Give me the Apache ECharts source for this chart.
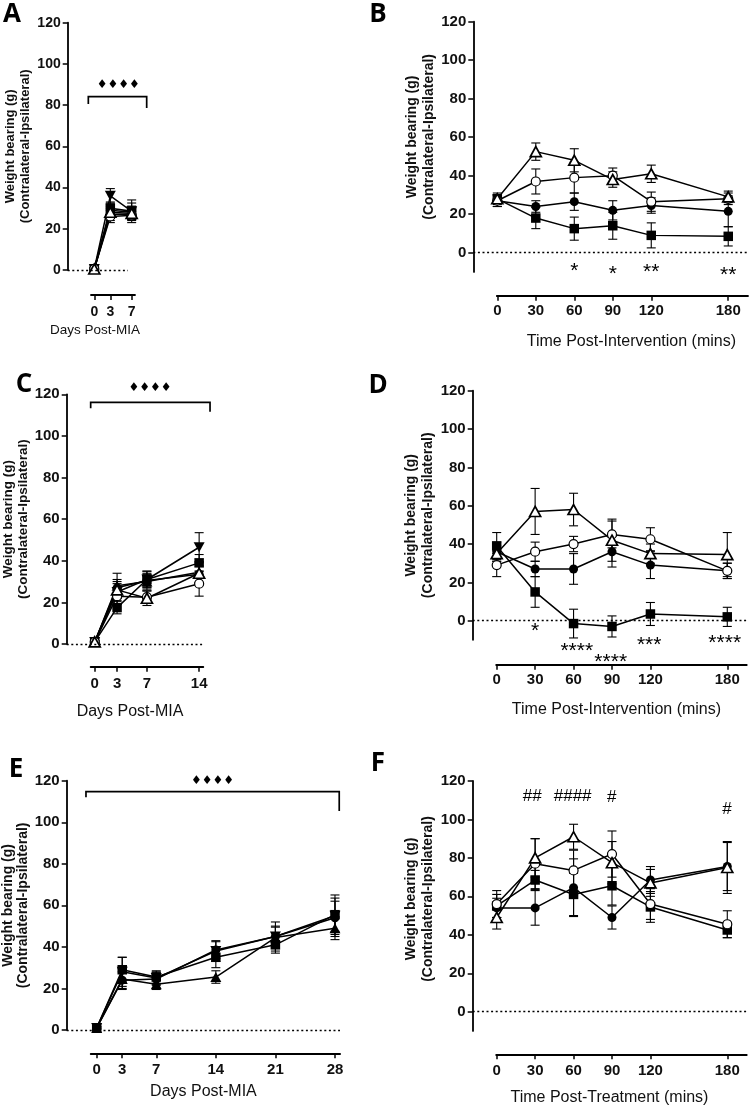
<!DOCTYPE html>
<html><head><meta charset="utf-8">
<script src="https://cdn.jsdelivr.net/npm/echarts@6/dist/echarts.min.js"></script>
<style>html,body{margin:0;padding:0;background:#fff}#c{width:750px;height:1108px}</style>
</head><body><div id="c"></div>
<script>
// ---------- tick labels ----------
const yTicks = [0, 20, 40, 60, 80, 100, 120];
const daysA = [0, 3, 7];
const daysC = [0, 3, 7, 14];
const daysE = [0, 3, 7, 14, 21, 28];
const mins = [0, 30, 60, 90, 120, 180];

// ---------- Panel A ----------
const A_iTri = [0.5, 36, 28.5], A_iTriErr = [0.5, 3.5, 5.5];
const A_sqr  = [0.5, 30, 28.5], A_sqrErr  = [0.5, 3, 4];
const A_tri  = [0.5, 29, 28],   A_triErr  = [0.5, 3, 3];
const A_cir  = [0.5, 27, 27],   A_cirErr  = [0.5, 3, 3];
const A_oCir = [0.5, 26, 26.5], A_oCirErr = [0.5, 3, 2];
const A_oTri = [0.5, 28, 27.5], A_oTriErr = [0.5, 3, 3];
const A_bracket = [-1.12, 9.81, 84.1, 80.5, 78.6];
const A_marks = ['♦♦♦♦'], A_markX = [4.5], A_markY = [89.8];

// ---------- Panel B ----------
const B_oTri = [28, 52.5, 48, 38, 41, 29],    B_oTriErr = [2, 4.5, 6, 4, 4.5, 3];
const B_oCir = [27, 37, 39, 40, 26.5, 28],    B_oCirErr = [3, 6.5, 8, 4, 5, 3];
const B_cir  = [27, 24, 26.5, 22, 24.5, 21.5], B_cirErr = [3, 3, 4.5, 5, 4, 8];
const B_sqr  = [28, 18, 12.5, 14, 9, 8.5],    B_sqrErr  = [3, 5.5, 6, 7, 6.5, 5];
const B_marks = ['*', '*', '**', '**'], B_markX = [60, 90, 120, 180], B_markY = [-7.3, -8.7, -7.6, -9.0];

// ---------- Panel C ----------
const C_iTri = [1, 25, 31, 46.5],   C_iTriErr = [0.5, 4, 4, 7];
const C_sqr  = [1, 17.5, 31, 39],   C_sqrErr  = [0.5, 3, 4, 4];
const C_tri  = [1, 28, 30, 34.5],   C_triErr  = [0.5, 6, 4, 5];
const C_cir  = [1, 27, 30.5, 33.5], C_cirErr  = [0.5, 4, 3, 4];
const C_oCir = [1, 23, 22.5, 29],   C_oCirErr = [0.5, 4, 3, 6];
const C_oTri = [1, 26, 22, 34],     C_oTriErr = [0.5, 4, 3.5, 5];
const C_bracket = [-0.54, 15.46, 116.1, 113.3, 111.6];
const C_marks = ['♦♦♦♦'], C_markX = [7.4], C_markY = [122.9];

// ---------- Panel D ----------
const D_oTri = [35, 57, 58, 42, 35, 34.5],  D_oTriErr = [4, 12, 8.5, 11, 5, 11.5];
const D_oCir = [29, 36, 40, 45, 42.5, 26],  D_oCirErr = [6, 5, 4, 7, 6, 4];
const D_cir  = [36, 27, 27, 36, 29, 26],    D_cirErr  = [5, 4, 8, 8, 7, 4];
const D_sqr  = [39, 15, -1.5, -3, 3.5, 2],  D_sqrErr  = [7, 8, 7.5, 5.5, 6, 5];
const D_marks = ['*', '****', '****', '***', '****'], D_markX = [30, 62.5, 89, 119, 178], D_markY = [-3.1, -13.6, -19.1, -10.4, -9.2];

// ---------- Panel E ----------
const E_iTri = [1, 28, 25, 38, 45, 55],       E_iTriErr = [0.5, 7, 3, 5, 7, 10];
const E_tri  = [1, 24.5, 22, 25.5, 44.5, 49], E_triErr  = [0.5, 5, 2.5, 3, 5, 5.5];
const E_cir  = [1, 24, 24.5, 38.5, 45, 54],   E_cirErr  = [0.5, 4, 3, 4, 5, 8];
const E_sqr  = [1, 29, 25.5, 35, 41, 55.5],   E_sqrErr  = [0.5, 6, 3, 5, 4, 8];
const E_bracket = [-1.26, 28.5, 114.7, 112, 105.4];
const E_marks = ['♦♦♦♦'], E_markX = [13.6], E_markY = [120];

// ---------- Panel F ----------
const F_oTri = [49, 80, 91, 77.5, 67, 75],    F_oTriErr = [6, 10, 6.5, 11, 7, 13.5];
const F_oCir = [56, 77, 73.5, 82, 56, 45.5],  F_oCirErr = [7, 13, 10.5, 12, 8, 7];
const F_sqr  = [55, 68.5, 61, 65.5, 54.5, 42.5], F_sqrErr = [6, 5, 11, 10, 8, 4];
const F_cir  = [54, 54, 64.5, 49, 68.5, 75.5], F_cirErr  = [5, 9, 15, 6, 7, 12.5];
const F_marks = ['##', '####', '#', '#'], F_markX = [27.8, 59.3, 89.8, 179.8], F_markY = [112.1, 112.1, 111.7, 105.4];

// ---------- layout (pixels) ----------
const FONT = '"Liberation Sans", Arial, Helvetica, sans-serif';
const L = {
  A: {x0: 94.3, sx: 5.34, yAx: 67.7, dRight: 128, aL: -0.62, aR: 7.62, top: 22.7, y0: 270, ymin: 0, axY: 295,
      tickFs: 14, lblMargin: 10, name: 'Days Post-MIA', nameFs: 13.5, nameGap: 28, namePad: [0, 36, 0, 0],
      yFs: 13, yLh: 15, yGap: 35, yPad: [0, 0, 0, 0]},
  B: {x0: 497.3, sx: 1.283, yAx: 473.3, dRight: 748, aL: -0.4, aR: 195.4, top: 21.7, y0: 252.7, ymin: -10, axY: 295.7,
      tickFs: 15, lblMargin: 8, name: 'Time Post-Intervention (mins)', nameFs: 16, nameGap: 38, namePad: [0, 0, 0, 18],
      yFs: 14, yLh: 17, yGap: 31, yPad: [0, 0, 0, 20]},
  C: {x0: 94.7, sx: 7.46, yAx: 66.7, dRight: 203.3, aL: -0.54, aR: 14.56, top: 394.3, y0: 644, ymin: 0, axY: 666.7,
      tickFs: 15, lblMargin: 10, name: 'Days Post-MIA', nameFs: 16, nameGap: 37, namePad: [0, 34, 0, 0],
      yFs: 13.5, yLh: 15, yGap: 34, yPad: [0, 0, 0, 0]},
  D: {x0: 496.7, sx: 1.281, yAx: 472.7, dRight: 748, aL: -0.4, aR: 195.2, top: 390.7, y0: 620.7, ymin: -10, axY: 664.7,
      tickFs: 15, lblMargin: 8, name: 'Time Post-Intervention (mins)', nameFs: 16, nameGap: 36.6, namePad: [0, 10, 0, 0],
      yFs: 14, yLh: 17, yGap: 31, yPad: [0, 0, 0, 0]},
  E: {x0: 96.7, sx: 8.51, yAx: 66.7, dRight: 340, aL: -0.7, aR: 28.6, top: 780.7, y0: 1030, ymin: 0, axY: 1053.3,
      tickFs: 15, lblMargin: 9.5, name: 'Days Post-MIA', nameFs: 16, nameGap: 30.4, namePad: [0, 24, 0, 0],
      yFs: 14, yLh: 15, yGap: 33.7, yPad: [0, 0, 0, 0]},
  F: {x0: 496.7, sx: 1.281, yAx: 472.7, dRight: 748, aL: -0.4, aR: 195.2, top: 781, y0: 1011.7, ymin: -10, axY: 1054.3,
      tickFs: 15, lblMargin: 9, name: 'Time Post-Treatment (mins)', nameFs: 16, nameGap: 35, namePad: [0, 24, 0, 0],
      yFs: 14, yLh: 17, yGap: 31, yPad: [0, 0, 0, 14]}
};
const letters = [['A', 12, 15], ['B', 378, 15], ['C', 24, 385], ['D', 378, 386], ['E', 16, 770], ['F', 378, 764]];

const SYM = {
  sqr:  {symbol: 'rect', symbolSize: 9.5, fill: '#000', bw: 0},
  cir:  {symbol: 'circle', symbolSize: 9, fill: '#000', bw: 0},
  oCir: {symbol: 'circle', symbolSize: 9, fill: '#fff', bw: 1.2},
  oTri: {symbol: 'triangle', symbolSize: [11, 10], fill: '#fff', bw: 1.7},
  tri:  {symbol: 'triangle', symbolSize: [11, 10], fill: '#000', bw: 0},
  iTri: {symbol: 'triangle', symbolSize: [11, 10], fill: '#000', bw: 0, rotate: 180}
};

const grids = [], xAxes = [], yAxes = [], series = [];
const yName = 'Weight bearing (g)\n(Contralateral-Ipsilateral)';

function addPanel(key, xs, xTicks, defs, marks, markX, markY, markStyle, bracket) {
  const p = L[key];
  const di = grids.length;
  const h = (p.y0 - p.top) * (120 - p.ymin) / 120;
  // data grid
  grids.push({left: p.yAx, top: p.top, width: p.dRight - p.yAx, height: h, containLabel: false, outerBoundsMode: 'none'});
  xAxes.push({gridIndex: di, type: 'value', show: false, min: (p.yAx - p.x0) / p.sx, max: (p.dRight - p.x0) / p.sx,
    axisLine: {onZero: false}});
  yAxes.push({gridIndex: di, type: 'value', min: p.ymin, max: 120, position: 'left',
    axisLine: {show: true, onZero: false, lineStyle: {color: '#000', width: 1.8}},
    axisTick: {show: true, length: 5, customValues: yTicks, lineStyle: {color: '#000', width: 1.5}},
    axisLabel: {show: true, customValues: yTicks, margin: 7, color: '#111', fontFamily: FONT, fontWeight: 'bold', fontSize: p.tickFs},
    splitLine: {show: false},
    name: yName, nameLocation: 'middle', nameRotate: 90, nameGap: p.yGap,
    nameTextStyle: {color: '#111', fontFamily: FONT, fontWeight: 'bold', fontSize: p.yFs, lineHeight: p.yLh, padding: p.yPad}
  });
  // separated x axis grid
  const ai = grids.length;
  grids.push({left: p.x0 + p.aL * p.sx, top: p.axY - 1, width: (p.aR - p.aL) * p.sx, height: 1, containLabel: false, outerBoundsMode: 'none'});
  xAxes.push({gridIndex: ai, type: 'value', min: p.aL, max: p.aR, position: 'bottom',
    axisLine: {show: true, onZero: false, lineStyle: {color: '#000', width: 1.8}},
    axisTick: {show: true, length: 5, customValues: xTicks, lineStyle: {color: '#000', width: 1.5}},
    axisLabel: {show: true, customValues: xTicks, margin: p.lblMargin, color: '#111', fontFamily: FONT, fontWeight: 'bold', fontSize: p.tickFs},
    splitLine: {show: false},
    name: p.name, nameLocation: 'middle', nameGap: p.nameGap,
    nameTextStyle: {color: '#111', fontFamily: FONT, fontSize: p.nameFs, padding: p.namePad, verticalAlign: 'top'}
  });
  yAxes.push({gridIndex: ai, type: 'value', show: false, min: 0, max: 1, axisLine: {onZero: false}});

  // zero reference line
  series.push({type: 'line', xAxisIndex: di, yAxisIndex: di, data: [], silent: true,
    markLine: {silent: true, symbol: 'none', label: {show: false}, animation: false,
      lineStyle: {color: '#000', type: [2, 2.6], width: 1.3}, data: [{yAxis: 0}]}});

  defs.forEach(([vals, errs, symKey]) => {
    series.push({type: 'custom', xAxisIndex: di, yAxisIndex: di, clip: false, silent: true, z: 2,
      data: xs.map((x, i) => [x, vals[i] - errs[i], vals[i] + errs[i]]),
      encode: {x: 0, y: [1, 2]},
      renderItem: (prm, api) => {
        const x = api.value(0);
        const lo = api.coord([x, api.value(1)]), hi = api.coord([x, api.value(2)]);
        const w = 4.5, st = {stroke: '#000', lineWidth: 1.1};
        return {type: 'group', children: [
          {type: 'line', shape: {x1: lo[0], y1: lo[1], x2: hi[0], y2: hi[1]}, style: st},
          {type: 'line', shape: {x1: lo[0] - w, y1: lo[1], x2: lo[0] + w, y2: lo[1]}, style: st},
          {type: 'line', shape: {x1: hi[0] - w, y1: hi[1], x2: hi[0] + w, y2: hi[1]}, style: st}
        ]};
      }
    });
  });
  defs.forEach(([vals, errs, symKey]) => {
    const s = SYM[symKey];
    series.push({type: 'line', xAxisIndex: di, yAxisIndex: di, clip: false, silent: true, z: 3,
      data: xs.map((x, i) => [x, vals[i]]),
      symbol: s.symbol, symbolSize: s.symbolSize, symbolRotate: s.rotate || 0, symbolKeepAspect: true, showAllSymbol: true,
      lineStyle: {color: '#000', width: 1.5},
      itemStyle: {color: s.fill, borderColor: '#000', borderWidth: s.bw},
      emphasis: {disabled: true}
    });
  });
  if (bracket) {
    series.push({type: 'custom', xAxisIndex: di, yAxisIndex: di, clip: false, silent: true, z: 4,
      data: [bracket], encode: {x: [0, 1], y: [2, 3, 4]},
      renderItem: (prm, api) => {
        const x1 = api.value(0), x2 = api.value(1), yt = api.value(2);
        const pts = [api.coord([x1, api.value(3)]), api.coord([x1, yt]), api.coord([x2, yt]), api.coord([x2, api.value(4)])];
        return {type: 'polyline', shape: {points: pts}, style: {stroke: '#000', lineWidth: 1.7, fill: null}};
      }
    });
  }
  series.push({type: 'custom', xAxisIndex: di, yAxisIndex: di, clip: false, silent: true, z: 5,
    data: markX.map((x, i) => [x, markY[i]]), encode: {x: 0, y: 1},
    renderItem: (prm, api) => {
      const pt = api.coord([api.value(0), api.value(1)]);
      return {type: 'text', x: pt[0], y: pt[1] + markStyle.dy,
        style: {text: marks[prm.dataIndex], fill: '#000', fontSize: markStyle.fs, fontFamily: markStyle.ff,
          fontWeight: markStyle.fw || 'normal', align: 'center', verticalAlign: 'middle'}};
    }
  });
}

const DIAM = {fs: 12, ff: '"DejaVu Sans", sans-serif', dy: 0, fw: 'normal'};
const STAR = {fs: 21, ff: FONT, dy: 4.7};
const HASH = {fs: 17, ff: FONT, dy: 0.5};

addPanel('A', daysA, daysA, [[A_iTri, A_iTriErr, 'iTri'], [A_sqr, A_sqrErr, 'sqr'], [A_tri, A_triErr, 'tri'],
  [A_cir, A_cirErr, 'cir'], [A_oCir, A_oCirErr, 'oCir'], [A_oTri, A_oTriErr, 'oTri']], A_marks, A_markX, A_markY, DIAM, A_bracket);
addPanel('B', mins, mins, [[B_sqr, B_sqrErr, 'sqr'], [B_cir, B_cirErr, 'cir'], [B_oCir, B_oCirErr, 'oCir'],
  [B_oTri, B_oTriErr, 'oTri']], B_marks, B_markX, B_markY, STAR, null);
addPanel('C', daysC, daysC, [[C_iTri, C_iTriErr, 'iTri'], [C_sqr, C_sqrErr, 'sqr'], [C_tri, C_triErr, 'tri'],
  [C_cir, C_cirErr, 'cir'], [C_oCir, C_oCirErr, 'oCir'], [C_oTri, C_oTriErr, 'oTri']], C_marks, C_markX, C_markY, DIAM, C_bracket);
addPanel('D', mins, mins, [[D_sqr, D_sqrErr, 'sqr'], [D_cir, D_cirErr, 'cir'], [D_oCir, D_oCirErr, 'oCir'],
  [D_oTri, D_oTriErr, 'oTri']], D_marks, D_markX, D_markY, STAR, null);
addPanel('E', daysE, daysE, [[E_iTri, E_iTriErr, 'iTri'], [E_tri, E_triErr, 'tri'], [E_cir, E_cirErr, 'cir'],
  [E_sqr, E_sqrErr, 'sqr']], E_marks, E_markX, E_markY, DIAM, E_bracket);
addPanel('F', mins, mins, [[F_sqr, F_sqrErr, 'sqr'], [F_cir, F_cirErr, 'cir'], [F_oCir, F_oCirErr, 'oCir'],
  [F_oTri, F_oTriErr, 'oTri']], F_marks, F_markX, F_markY, HASH, null);

const chart = echarts.init(document.getElementById('c'), null, {renderer: 'canvas'});
chart.setOption({
  backgroundColor: '#fff',
  animation: false,
  grid: grids, xAxis: xAxes, yAxis: yAxes, series: series,
  graphic: letters.map(([t, x, y]) => ({type: 'text', x: x, y: y, silent: true,
    style: {text: t, fill: '#000', fontSize: 26, fontWeight: 'bold', fontFamily: '"Open Sans", ' + FONT, align: 'center', verticalAlign: 'middle'}}))
});
</script></body></html>
